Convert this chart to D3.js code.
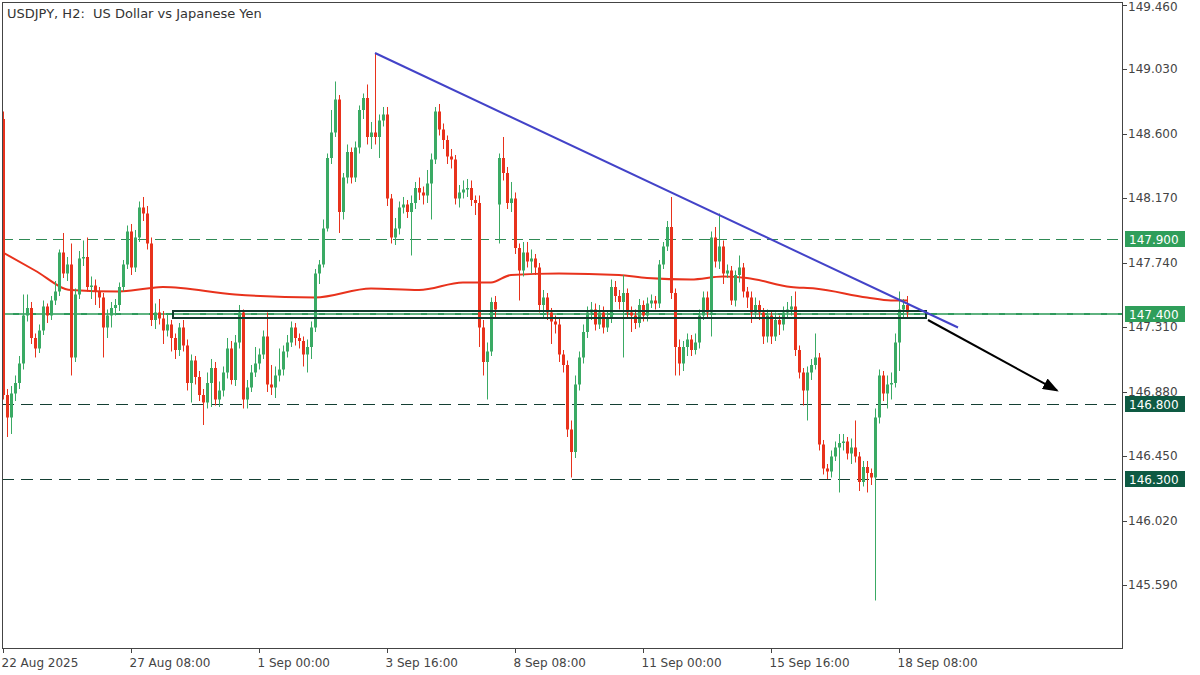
<!DOCTYPE html>
<html>
<head>
<meta charset="utf-8">
<script src="https://cdn.jsdelivr.net/npm/d3@7"></script>
<style>
body{margin:0;background:#fff;}
text{font-family:"DejaVu Sans",sans-serif;}
</style>
</head>
<body>
<script>
// USDJPY H2 candles, 22 Aug 16:00 .. 18 Sep 12:00 (index = bar number)
var closes = [
  146.86,146.71,146.87,146.94,147.07,147.39,147.44,147.24,147.17,147.29,
  147.45,147.39,147.49,147.55,147.81,147.67,147.73,147.11,147.53,147.77,
  147.78,147.58,147.59,147.55,147.51,147.31,147.39,147.44,147.46,147.58,
  147.73,147.95,147.71,147.91,148.11,148.07,147.87,147.36,147.41,147.37,
  147.29,147.33,147.24,147.16,147.31,147.19,146.94,147.09,146.98,146.86,
  146.81,146.94,147.04,146.83,146.89,147.01,147.17,146.96,147.21,147.41,
  146.83,146.91,147.01,147.07,147.13,147.25,146.93,146.91,146.99,147.03,
  147.15,147.21,147.31,147.24,147.22,147.13,147.18,147.31,147.67,147.73,
  147.97,148.44,148.61,148.83,148.08,148.31,148.48,148.31,148.51,148.76,
  148.84,148.58,148.61,148.58,148.69,148.73,148.17,147.91,147.97,148.11,
  148.13,148.08,148.14,148.24,148.21,148.19,148.27,148.43,148.75,148.63,
  148.56,148.45,148.43,148.17,148.21,148.23,148.24,148.16,148.14,147.31,
  147.08,147.15,147.48,147.43,148.44,148.34,148.14,148.17,147.84,147.69,
  147.81,147.75,147.77,147.71,147.46,147.51,147.41,147.35,147.33,147.13,
  147.06,146.63,146.48,146.93,147.11,147.28,147.41,147.43,147.33,147.41,
  147.31,147.37,147.58,147.52,147.48,147.54,147.41,147.39,147.34,147.46,
  147.39,147.47,147.49,147.47,147.73,147.85,147.98,147.54,147.18,147.07,
  147.18,147.23,147.16,147.21,147.39,147.51,147.41,147.91,147.75,147.85,
  147.67,147.69,147.49,147.66,147.71,147.55,147.51,147.41,147.46,147.41,
  147.25,147.39,147.25,147.36,147.33,147.41,147.43,147.45,147.16,147.01,
  146.89,147.01,147.06,147.11,146.53,146.37,146.35,146.45,146.51,146.54,
  146.55,146.47,146.51,146.45,146.28,146.38,146.34,146.31,146.71,146.99,
  146.87,146.93,146.94,147.21,147.43,147.46,147.41
];
var highs = [
  148.75,146.90,146.92,146.99,147.12,147.53,147.53,147.48,147.27,147.33,
  147.49,147.47,147.52,147.62,147.83,147.94,147.78,147.87,147.57,147.82,
  147.89,147.91,147.65,147.63,147.58,147.54,147.43,147.48,147.50,147.61,
  147.76,147.99,148.00,147.96,148.15,148.18,148.12,147.91,147.47,147.50,
  147.42,147.40,147.36,147.27,147.34,147.36,147.23,147.13,147.12,147.02,
  146.90,147.01,147.10,147.08,146.95,147.05,147.24,147.22,147.26,147.46,
  147.43,146.96,147.06,147.18,147.17,147.29,147.41,147.06,147.05,147.17,
  147.19,147.26,147.35,147.34,147.27,147.25,147.23,147.35,147.70,147.76,
  148.03,148.47,148.76,148.95,148.86,148.34,148.53,148.51,148.55,148.79,
  148.87,148.93,148.68,149.14,148.73,148.78,148.78,148.20,148.04,148.15,
  148.18,148.16,148.19,148.28,148.31,148.25,148.36,148.47,148.78,148.80,
  148.67,148.59,148.50,148.46,148.26,148.29,148.30,148.29,148.19,148.19,
  147.36,147.21,147.51,147.52,148.47,148.58,148.38,148.28,148.21,147.87,
  147.88,147.88,147.83,147.80,147.74,147.56,147.54,147.44,147.39,147.37,
  147.16,147.09,146.69,146.99,147.15,147.33,147.45,147.48,147.47,147.46,
  147.45,147.42,147.63,147.62,147.56,147.66,147.57,147.45,147.43,147.50,
  147.49,147.51,147.53,147.52,147.76,147.88,148.02,148.18,147.57,147.23,
  147.22,147.27,147.26,147.27,147.43,147.55,147.55,147.95,147.98,148.07,
  147.89,147.73,147.72,147.69,147.79,147.74,147.58,147.55,147.51,147.49,
  147.44,147.43,147.42,147.41,147.39,147.45,147.48,147.52,147.55,147.19,
  147.04,147.05,147.10,147.27,147.14,146.56,146.40,146.49,146.55,146.60,
  146.60,146.58,146.57,146.69,146.48,146.42,146.42,146.37,146.77,147.03,
  147.02,146.99,147.01,147.27,147.55,147.50,147.52
];
var lows = [
  146.83,146.58,146.60,146.82,146.90,147.03,147.35,147.20,147.11,147.14,
  147.26,147.34,147.36,147.46,147.52,147.64,147.62,146.99,147.08,147.50,
  147.72,147.55,147.50,147.46,147.44,147.11,147.24,147.31,147.39,147.42,
  147.55,147.70,147.66,147.68,147.88,148.02,147.83,147.32,147.30,147.33,
  147.20,147.25,147.15,147.10,147.12,147.15,146.89,146.81,146.93,146.82,
  146.66,146.77,146.78,146.79,146.78,146.85,146.97,146.93,146.92,147.17,
  146.77,146.77,146.88,146.98,147.03,147.10,146.88,146.86,146.84,146.95,
  146.99,147.11,147.18,147.19,147.17,147.05,147.01,147.10,147.28,147.60,
  147.71,147.95,148.40,148.58,147.94,148.03,148.27,148.27,148.28,148.47,
  148.70,148.53,148.50,148.53,148.44,148.65,148.12,147.87,147.86,147.93,
  148.07,148.04,147.79,148.10,148.16,148.13,148.14,148.03,148.40,148.59,
  148.50,148.40,148.37,148.13,148.11,148.17,148.18,148.12,148.06,147.18,
  146.99,146.83,147.12,147.38,147.87,148.29,148.10,148.08,147.80,147.49,
  147.65,147.71,147.67,147.66,147.41,147.38,147.36,147.20,147.27,147.08,
  147.01,146.58,146.31,146.44,146.89,147.07,147.24,147.36,147.29,147.30,
  147.27,147.28,147.34,147.48,147.43,147.11,147.37,147.28,147.30,147.31,
  147.35,147.35,147.44,147.43,147.44,147.70,147.82,147.50,146.99,146.99,
  147.02,147.12,147.12,147.13,147.17,147.36,147.37,147.25,147.71,147.70,
  147.60,147.64,147.46,147.45,147.61,147.51,147.44,147.34,147.37,147.36,
  147.20,147.21,147.20,147.22,147.26,147.29,147.37,147.39,147.12,146.97,
  146.79,146.69,146.96,147.03,146.49,146.33,146.30,146.31,146.42,146.21,
  146.49,146.43,146.40,146.41,146.22,146.25,146.21,146.26,145.49,146.67,
  146.82,146.77,146.83,146.91,147.02,147.38,147.37
];
// bars that did not open at the previous close (first bar, Monday gap)
var gapOpens = {0: 148.70, 124: 148.13};

// moving average
var maIdx  = [0,8,17,29,36,40,58,78,92,104,115,122,127,139,154,161,172,180,186,197,203,216,222,226];
var maVals = [147.81,147.69,147.56,147.55,147.57,147.58,147.53,147.51,147.57,147.56,147.61,147.61,147.66,147.67,147.66,147.64,147.63,147.65,147.64,147.58,147.57,147.51,147.49,147.49];

var xTickIdx = [0,32,64,96,128,160,192,224];
var xTickLabels = ["22 Aug 2025","27 Aug 08:00","1 Sep 00:00","3 Sep 16:00","8 Sep 08:00","11 Sep 00:00","15 Sep 16:00","18 Sep 08:00"];
var yTicks = [149.46,149.03,148.60,148.17,147.74,147.31,146.88,146.45,146.02,145.59];

var levels = [147.9, 147.4, 146.8, 146.3];
var levelColors = ["#2f9e5a","#2f9e5a","#0e5a43","#0e5a43"];

var trendIdx = [93, 238.75], trendVals = [149.14, 147.31];
var zoneIdx = [42.5, 230.75], zoneVals = [147.373, 147.42];
var arrowIdx = [231.25, 263.5], arrowVals = [147.36, 146.89];

var width = 1200, height = 675;
var plot = {left:2, right:1122, top:2, bottom:648};

var svg = d3.select("body").append("svg")
    .attr("width",width)
    .attr("height",height)
    .style("display","block");

var x = d3.scaleLinear().domain([0,279.75]).range([3,1122]);
var y = d3.scaleLinear().domain([145.1733,149.48]).range([648,2]);
function crisp(v){ return Math.round(v)+0.5; }

var candles = closes.map(function(c,i){
    var o = gapOpens[i] !== undefined ? gapOpens[i] : closes[i-1];
    return {i:i, o:o, h:highs[i], l:lows[i], c:c};
});

svg.append("clipPath").attr("id","clip")
  .append("rect")
    .attr("x",plot.left).attr("y",plot.top)
    .attr("width",plot.right-plot.left).attr("height",plot.bottom-plot.top);

var g = svg.append("g").attr("clip-path","url(#clip)");

// horizontal levels
g.append("line")
    .attr("x1",plot.left).attr("x2",plot.right)
    .attr("y1",crisp(y(147.9))).attr("y2",crisp(y(147.9)))
    .attr("stroke","#2f8a55").attr("stroke-width",1)
    .attr("stroke-dasharray","11,6");
g.append("line")
    .attr("x1",plot.left).attr("x2",plot.right)
    .attr("y1",Math.round(y(147.4))).attr("y2",Math.round(y(147.4)))
    .attr("stroke","#2f9a5c").attr("stroke-width",2);
g.append("line")
    .attr("x1",plot.left).attr("x2",plot.right)
    .attr("y1",Math.round(y(147.4))).attr("y2",Math.round(y(147.4)))
    .attr("stroke","#a9d9b9").attr("stroke-width",0.8)
    .attr("stroke-dasharray","11,6");
[146.8,146.3].forEach(function(v){
  g.append("line")
    .attr("x1",plot.left).attr("x2",plot.right)
    .attr("y1",crisp(y(v))).attr("y2",crisp(y(v)))
    .attr("stroke","#143f33").attr("stroke-width",1)
    .attr("stroke-dasharray","12,7");
});

// moving average
var maLine = d3.line()
    .x(function(d){return x(d[0]);})
    .y(function(d){return y(d[1]);})
    .curve(d3.curveMonotoneX);
g.append("path")
    .datum(maIdx.map(function(v,k){return [v,maVals[k]];}))
    .attr("d",maLine)
    .attr("fill","none")
    .attr("stroke","#e8321c")
    .attr("stroke-width",2);

// candles
var cg = g.selectAll(".candle")
    .data(candles)
    .enter()
    .append("g");
cg.append("line")
    .attr("x1",function(d){return Math.round(x(d.i))+0.5;})
    .attr("x2",function(d){return Math.round(x(d.i))+0.5;})
    .attr("y1",function(d){return y(d.h);})
    .attr("y2",function(d){return y(d.l);})
    .attr("stroke",function(d){return d.c>=d.o ? "#3aaa64" : "#e8321c";})
    .attr("stroke-width",1);
cg.append("rect")
    .attr("x",function(d){return Math.round(x(d.i))-1;})
    .attr("width",3)
    .attr("y",function(d){return y(Math.max(d.o,d.c));})
    .attr("height",function(d){return Math.max(1,Math.abs(y(d.o)-y(d.c)));})
    .attr("fill",function(d){return d.c>=d.o ? "#3aaa64" : "#e8321c";});

// zone rectangle
g.append("rect")
    .attr("x",Math.round(x(zoneIdx[0])))
    .attr("y",Math.round(y(zoneVals[1])))
    .attr("width",Math.round(x(zoneIdx[1])-x(zoneIdx[0])))
    .attr("height",Math.round(y(zoneVals[0])-y(zoneVals[1])))
    .attr("fill","none")
    .attr("stroke","#123a2d")
    .attr("stroke-width",2);

// trend line
g.append("line")
    .attr("x1",x(trendIdx[0])).attr("y1",y(trendVals[0]))
    .attr("x2",x(trendIdx[1])).attr("y2",y(trendVals[1]))
    .attr("stroke","#4343c8")
    .attr("stroke-width",2);

// arrow
svg.append("defs").append("marker")
    .attr("id","ah")
    .attr("markerUnits","userSpaceOnUse")
    .attr("markerWidth",16).attr("markerHeight",12)
    .attr("refX",14).attr("refY",6)
    .attr("orient","auto")
  .append("path")
    .attr("d","M0,0 L16,6 L0,12 Z")
    .attr("fill","#000");
g.append("line")
    .attr("x1",x(arrowIdx[0])).attr("y1",y(arrowVals[0]))
    .attr("x2",x(arrowIdx[1])).attr("y2",y(arrowVals[1]))
    .attr("stroke","#000")
    .attr("stroke-width",2)
    .attr("marker-end","url(#ah)");

// frame
svg.append("rect")
    .attr("x",plot.left+0.5).attr("y",plot.top+0.5)
    .attr("width",plot.right-plot.left).attr("height",plot.bottom-plot.top)
    .attr("fill","none").attr("stroke","#444").attr("stroke-width",1);

// title
svg.append("text")
    .attr("x",7).attr("y",18)
    .attr("font-size",13)
    .attr("fill","#333")
    .text("USDJPY, H2:\u00a0 US Dollar vs Japanese Yen");

// y axis
var yAxis = svg.append("g");
yTicks.forEach(function(v){
  yAxis.append("line")
    .attr("x1",plot.right+0.5).attr("x2",plot.right+5)
    .attr("y1",crisp(y(v))).attr("y2",crisp(y(v)))
    .attr("stroke","#444");
  yAxis.append("text")
    .attr("x",1128).attr("y",Math.max(y(v)+4,11))
    .attr("font-size",12)
    .attr("fill","#444")
    .text(d3.format(".3f")(v));
});

// level labels
levels.forEach(function(v,k){
  var lg = svg.append("g");
  lg.append("rect")
    .attr("x",1125).attr("y",Math.round(y(v))-8)
    .attr("width",60).attr("height",16)
    .attr("fill",levelColors[k]);
  lg.append("text")
    .attr("x",1129).attr("y",Math.round(y(v))+4.5)
    .attr("font-size",12)
    .attr("fill","#fff")
    .text(d3.format(".3f")(v));
});

// x axis
var xAxis = svg.append("g");
xTickIdx.forEach(function(v,k){
  var px = Math.round(x(v))+0.5;
  xAxis.append("line")
    .attr("x1",px).attr("x2",px)
    .attr("y1",plot.bottom).attr("y2",plot.bottom+5)
    .attr("stroke","#444");
  xAxis.append("text")
    .attr("x",px-2).attr("y",667)
    .attr("font-size",12)
    .attr("fill","#444")
    .text(xTickLabels[k]);
});
</script>
</body>
</html>
